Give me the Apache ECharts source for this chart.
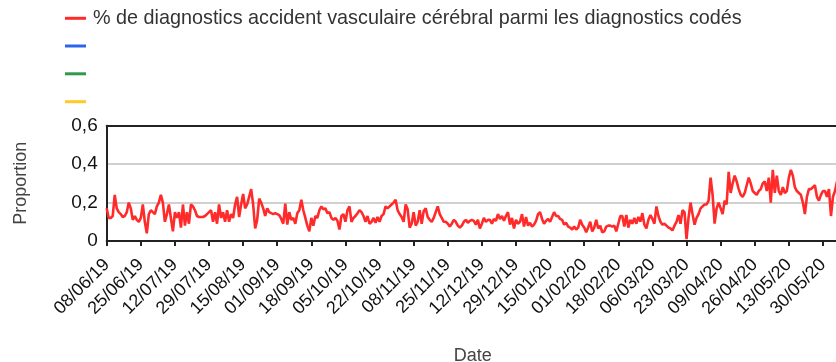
<!DOCTYPE html>
<html>
<head>
<meta charset="utf-8">
<script src="https://cdn.jsdelivr.net/npm/echarts@6/dist/echarts.min.js"></script>
<style>
  html, body { margin: 0; padding: 0; background: #fff; overflow: hidden; }
  #chart { width: 860px; height: 362px; }
</style>
</head>
<body>
<div id="chart"></div>
<script>
// Daily share of stroke diagnoses among coded diagnoses, 08/06/2019 onwards
const startDate = new Date(2019, 5, 8);

const strokeShare = [
  // 08/06/19 ->
  0.17,0.12,0.12,0.13,0.24,0.17,0.15,0.14,0.125,0.13,
  0.15,0.2,0.17,0.11,0.13,0.11,0.1,0.12,0.19,0.1,
  0.04,0.14,0.16,0.15,0.14,0.18,0.2,0.24,0.2,0.1,
  0.14,0.19,0.12,0.05,0.15,0.12,0.15,0.07,0.19,0.08,
  0.15,0.09,0.19,0.18,0.16,0.13,0.125,0.125,0.125,0.13,
  0.14,0.15,0.16,0.1,0.15,0.09,0.19,0.12,0.15,0.1,
  0.16,
  0.1,0.14,0.12,0.19,0.23,0.125,0.19,0.245,0.17,0.19,
  0.23,0.27,0.19,0.065,0.11,0.22,0.2,0.17,0.13,0.17,
  0.15,0.145,0.14,0.145,0.14,0.135,0.115,0.09,0.195,0.085,
  0.15,0.11,0.12,0.09,0.145,0.16,0.215,0.16,0.12,0.08,
  0.05,0.12,0.08,0.13,0.12,0.16,0.18,0.165,0.17,0.145,
  0.15,0.12,0.11,0.12,0.105,0.06,0.13,0.14,0.1,0.16,
  0.18,
  0.1,0.12,0.13,0.145,0.16,0.15,0.13,0.1,0.13,0.09,
  0.1,0.12,0.095,0.125,0.1,0.13,0.14,0.18,0.17,0.18,
  0.19,0.2,0.215,0.16,0.14,0.125,0.1,0.19,0.165,0.07,
  0.09,0.15,0.08,0.1,0.16,0.09,0.155,0.17,0.125,0.11,
  0.1,0.12,0.15,0.18,0.14,0.12,0.1,0.1,0.09,0.075,
  0.09,0.11,0.1,0.08,0.07,0.08,0.1,0.11,0.095,0.105,
  0.11,
  0.105,0.085,0.11,0.065,0.09,0.12,0.1,0.11,0.11,0.09,
  0.115,0.105,0.14,0.115,0.13,0.105,0.13,0.15,0.085,0.12,
  0.065,0.11,0.09,0.1,0.14,0.075,0.125,0.08,0.095,0.075,
  0.085,0.105,0.14,0.15,0.115,0.09,0.105,0.115,0.1,0.125,
  0.15,0.13,0.13,0.115,0.11,0.085,0.095,0.075,0.07,0.06,
  0.075,0.06,0.07,0.11,0.085,0.07,0.045,0.07,0.1,0.05,
  0.07,
  0.11,0.065,0.08,0.045,0.05,0.075,0.08,0.08,0.075,0.08,
  0.05,0.09,0.13,0.13,0.075,0.135,0.07,0.11,0.09,0.12,
  0.09,0.125,0.1,0.145,0.085,0.065,0.11,0.135,0.115,0.09,
  0.18,0.13,0.1,0.085,0.09,0.08,0.07,0.065,0.055,0.08,
  0.1,0.135,0.09,0.16,0.15,0.01,0.12,0.2,0.14,0.085,
  0.12,0.14,0.17,0.18,0.19,0.19,0.21,0.33,0.24,0.09,
  0.17,
  0.2,0.17,0.14,0.21,0.19,0.36,0.25,0.3,0.34,0.31,
  0.27,0.24,0.23,0.25,0.29,0.33,0.3,0.26,0.25,0.24,
  0.26,0.27,0.3,0.31,0.26,0.33,0.2,0.37,0.25,0.34,
  0.26,0.24,0.28,0.25,0.26,0.33,0.37,0.34,0.28,0.26,
  0.25,0.24,0.2,0.14,0.23,0.27,0.27,0.28,0.29,0.23,
  0.21,0.24,0.26,0.26,0.23,0.27,0.13,0.23,0.26,0.31,
  0.3
];

const yTicks = [0, 0.2, 0.4, 0.6];
const seriesNames = [
  '% de diagnostics accident vasculaire cérébral parmi les diagnostics codés',
  ' ', '  ', '   '
];
const seriesColors = ['#ff2a2a', '#2b65e8', '#2f9a4c', '#ffc926'];

// one dd/mm/yy label per day
const pad = n => String(n).padStart(2, '0');
const categories = strokeShare.map((_, i) => {
  const d = new Date(startDate.getFullYear(), startDate.getMonth(), startDate.getDate() + i);
  return pad(d.getDate()) + '/' + pad(d.getMonth() + 1) + '/' + pad(d.getFullYear() % 100);
});

const FONT = 'Arial, "Liberation Sans", sans-serif';
const legendRowCenters = [18.3, 46, 73.8, 101.7];

const chart = echarts.init(document.getElementById('chart'), null, { renderer: 'canvas' });

chart.setOption({
  animation: false,
  backgroundColor: '#fff',
  textStyle: { fontFamily: FONT },
  legend: seriesNames.map((name, i) => ({
    orient: 'vertical',
    left: 60,
    top: legendRowCenters[i] - 16,
    icon: 'rect',
    itemWidth: 21,
    itemHeight: 3,
    itemGap: 0,
    selectedMode: false,
    data: [name],
    textStyle: { fontSize: 19.8, color: '#333', fontFamily: FONT, lineHeight: 22, padding: [0, 0, 0, 2] }
  })),
  grid: {
    left: 106.7,
    right: 21,
    top: 125.7,
    bottom: 121,
    show: false,
    containLabel: false,
    outerBoundsMode: 'none'
  },
  xAxis: [{
    type: 'category',
    data: categories,
    boundaryGap: false,
    name: 'Date',
    nameLocation: 'middle',
    nameGap: 106,
    nameTextStyle: { fontSize: 18, color: '#444', fontFamily: FONT },
    axisLine: { show: true, lineStyle: { color: '#222', width: 2 } },
    axisTick: { show: true, interval: 16, length: 5, lineStyle: { color: '#222', width: 2 } },
    axisLabel: {
      interval: 16,
      rotate: 45,
      margin: 21,
      fontSize: 18,
      color: '#111',
      fontFamily: FONT
    },
    splitLine: { show: false },
    z: 5
  }, {
    // dark frame line along the top of the plot
    type: 'category',
    position: 'top',
    data: categories,
    boundaryGap: false,
    axisLine: { show: true, lineStyle: { color: '#222', width: 2 } },
    axisTick: { show: false },
    axisLabel: { show: false },
    splitLine: { show: false },
    z: 5
  }],
  yAxis: {
    type: 'value',
    min: yTicks[0],
    max: yTicks[yTicks.length - 1],
    interval: 0.2,
    name: 'Proportion',
    nameLocation: 'middle',
    nameGap: 77,
    nameTextStyle: { fontSize: 18, color: '#444', fontFamily: FONT },
    axisLine: { show: true, lineStyle: { color: '#222', width: 2 } },
    axisTick: { show: false },
    axisLabel: {
      margin: 9,
      fontSize: 19,
      color: '#111',
      fontFamily: FONT,
      formatter: v => (Math.round(v * 10) / 10).toString().replace('.', ',')
    },
    splitLine: { show: true, lineStyle: { color: '#d0d0d0', width: 2 } }
  },
  series: seriesNames.map((name, i) => ({
    name,
    type: 'line',
    xAxisIndex: 0,
    data: i === 0 ? strokeShare : [],
    color: seriesColors[i],
    showSymbol: false,
    symbol: 'none',
    lineStyle: { width: 2.6, color: seriesColors[i] },
    emphasis: { disabled: true }
  }))
});
</script>
</body>
</html>
